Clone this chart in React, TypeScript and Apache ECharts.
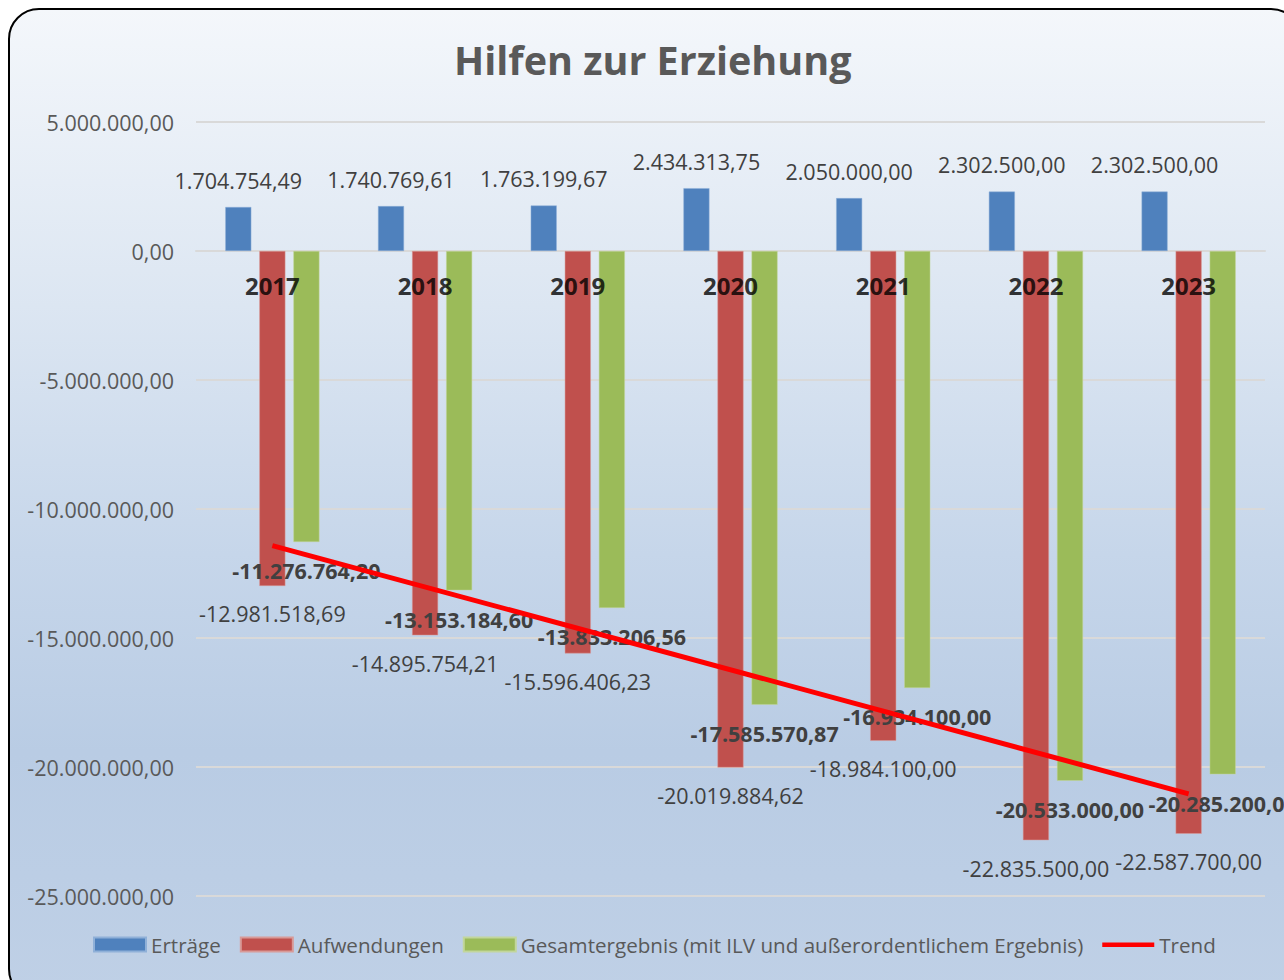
import React, { useEffect, useRef } from "react";
import * as echarts from "echarts";

const categories = ["2017", "2018", "2019", "2020", "2021", "2022", "2023"];
const ertraege = [1704754.49, 1740769.61, 1763199.67, 2434313.75, 2050000.0, 2302500.0, 2302500.0];
const aufwendungen = [-12981518.69, -14895754.21, -15596406.23, -20019884.62, -18984100.0, -22835500.0, -22587700.0];
const gesamt = [-11276764.2, -13153184.6, -13833206.56, -17585570.87, -16934100.0, -20533000.0, -20285200.0];
const trend = [-11420000, null, null, null, null, null, -21040000];
const seriesNames = ["Erträge", "Aufwendungen", "Gesamtergebnis (mit ILV und außerordentlichem Ergebnis)", "Trend"];
const yMin = -25000000;
const yMax = 5000000;
const yInterval = 5000000;

function fmt(v: number): string {
  const neg = v < 0;
  const a = Math.abs(v);
  const fixed = a.toFixed(2);
  const [intPart, dec] = fixed.split(".");
  let s = "";
  for (let i = 0; i < intPart.length; i++) {
    const fromEnd = intPart.length - i;
    s += intPart[i];
    if (fromEnd > 1 && fromEnd % 3 === 1) s += ".";
  }
  return (neg ? "-" : "") + s + "," + dec;
}

const FONT = "'Open Sans', sans-serif";
const TREND_ICON = "path://M0,0L0,0.01M0,5L52,5L52,9.5L0,9.5ZM52,14L52,13.99";

export default function App() {
  const ref = useRef<HTMLDivElement>(null);
  useEffect(() => {
    if (!ref.current) return;
    const chart = echarts.init(ref.current, null, { renderer: "svg" });
    const labelBase = { fontFamily: FONT, fontSize: 21.5, color: "#404040" };
    chart.setOption({
      animation: false,
      textStyle: { fontFamily: FONT },
      graphic: [
        {
          type: "rect",
          z: -10,
          silent: true,
          shape: { x: 9, y: 9, width: 1292, height: 990, r: 30 },
          style: {
            fill: new echarts.graphic.LinearGradient(0, 0, 0, 1, [
              { offset: 0, color: "#f4f7fb" },
              { offset: 0.3, color: "#dce6f2" },
              { offset: 0.55, color: "#c6d6ea" },
              { offset: 0.75, color: "#b9cce4" },
              { offset: 1, color: "#bfd0e6" },
            ]),
            stroke: "#000000",
            lineWidth: 2,
          },
        },
      ],
      title: {
        text: "Hilfen zur Erziehung",
        left: 449,
        top: 35,
        textStyle: { fontFamily: FONT, fontSize: 39.5, fontWeight: "bold", color: "#595959" },
      },
      legend: {
        bottom: 20,
        left: 88,
        itemWidth: 52,
        itemHeight: 14,
        itemGap: 19,
        textStyle: { fontFamily: FONT, fontSize: 20.6, color: "#595959" },
        data: [
          { name: seriesNames[0], icon: "rect" },
          { name: seriesNames[1], icon: "rect" },
          { name: seriesNames[2], icon: "rect" },
          { name: seriesNames[3], icon: TREND_ICON, itemStyle: { color: "#ff0000", borderWidth: 0 } },
        ],
      },
      grid: { left: 196, right: 19, top: 122, bottom: 84, containLabel: false },
      xAxis: {
        type: "category",
        data: categories,
        axisLine: { onZero: true, lineStyle: { color: "#d9d9d9", width: 2 } },
        axisTick: { show: false },
        axisLabel: { show: false },
      },
      yAxis: {
        type: "value",
        min: yMin,
        max: yMax,
        interval: yInterval,
        axisLine: { show: false },
        axisTick: { show: false },
        splitLine: { lineStyle: { color: "#d9d9d9", width: 2 } },
        axisLabel: { margin: 22, fontFamily: FONT, fontSize: 21.5, color: "#595959", formatter: (v: number) => fmt(v) },
      },
      series: [
        {
          name: seriesNames[0],
          type: "bar",
          data: ertraege,
          barWidth: 26,
          barGap: "31%",
          itemStyle: { color: "#4f81bd", borderColor: "#8fb0d8", borderWidth: 0.5 },
          label: { show: true, position: "top", distance: 16, ...labelBase, formatter: (p: any) => fmt(p.value) },
        },
        {
          name: seriesNames[1],
          type: "bar",
          data: aufwendungen,
          barWidth: 26,
          barGap: "31%",
          itemStyle: { color: "#c0504d", borderColor: "#d89a98", borderWidth: 0.5 },
          label: { show: true, position: "bottom", distance: 17, ...labelBase, formatter: (p: any) => fmt(p.value) },
        },
        {
          name: seriesNames[2],
          type: "bar",
          data: gesamt,
          barWidth: 26,
          barGap: "31%",
          itemStyle: { color: "#9bbb59", borderColor: "#c2d69b", borderWidth: 0.5 },
          label: {
            show: true,
            position: "bottom",
            distance: 18,
            ...labelBase,
            fontWeight: "bold",
            formatter: (p: any) => fmt(p.value),
          },
          z: 3,
        },
        {
          name: seriesNames[3],
          type: "line",
          data: trend,
          connectNulls: true,
          showSymbol: false,
          symbol: "none",
          lineStyle: { color: "#ff0000", width: 5 },
          itemStyle: { color: "#ff0000" },
          z: 5,
        },
        {
          name: "categoryLabels",
          type: "scatter",
          data: categories.map((c) => [c, 0]),
          symbolSize: 0,
          silent: true,
          z: 6,
          label: {
            show: true,
            position: "bottom",
            distance: 22,
            fontFamily: FONT,
            fontSize: 24,
            fontWeight: "bold",
            color: "#000000",
            formatter: (p: any) => p.value[0],
          },
        },
      ],
    });
    return () => chart.dispose();
  }, []);
  return (
    <div
      ref={ref}
      style={{ position: "fixed", left: 0, top: 0, width: 1284, height: 980, background: "#ffffff" }}
    />
  );
}
